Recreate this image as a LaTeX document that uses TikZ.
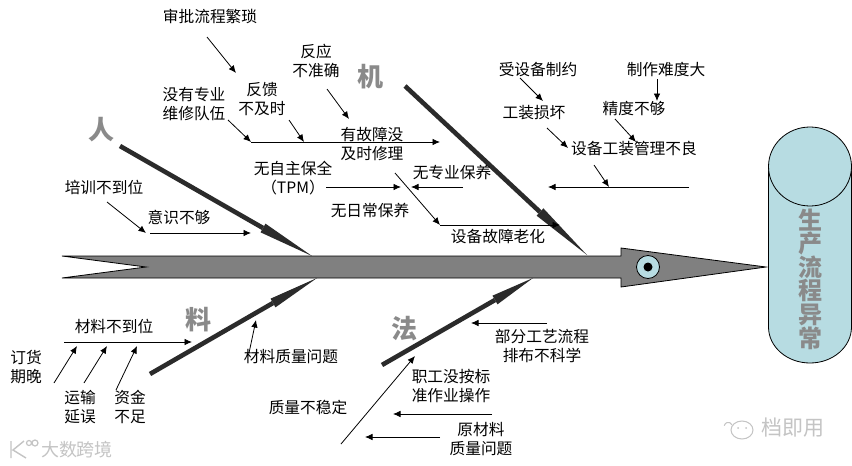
\documentclass[tikz,border=0pt]{standalone}
\usepackage{fontspec}
\setmainfont{Noto Sans CJK SC}
\usepackage{tikz}
\usetikzlibrary{arrows.meta,positioning,calc}
\definecolor{spinegray}{HTML}{808080}
\definecolor{ribdark}{HTML}{2B2B2B}
\definecolor{headblue}{HTML}{B7DCE2}
\definecolor{markgray}{HTML}{8A8A8A}
\definecolor{wmgray}{HTML}{C4C4C4}
\begin{document}
\begin{tikzpicture}[x=1pt,y=-1pt,
 lbl/.style={align=center,inner sep=0pt,font={\fontsize{15.7}{18.5}\selectfont}},
 catmark/.style={inner sep=0pt,text=markgray,font={\bfseries\fontsize{26}{26}\selectfont}},
 wm/.style={inner sep=0pt,text=wmgray,font={\fontsize{#1}{#1}\selectfont}},
 ar/.style={-{Latex[length=7.5pt,width=6.5pt]},line width=0.8pt},
 rib/.style={line width=4.6pt,draw=ribdark},
 ribtip/.style={fill=ribdark}]
\useasboundingbox (0,0) rectangle (852,466);
\fill[white] (0,0) rectangle (852,466);
% ribs
\coordinate (renS) at (120,146); \coordinate (renB) at (263,228); \coordinate (renE) at (312,256);
\coordinate (jiS) at (405,86); \coordinate (jiB) at (540,212); \coordinate (jiE) at (587,255);
\coordinate (liaoS) at (150,374); \coordinate (liaoB) at (273,303); \coordinate (liaoE) at (317,278);
\coordinate (faS) at (382,365); \coordinate (faB) at (495,300); \coordinate (faE) at (533,278);
\draw[rib] (renS) -- (renB);
\fill[ribtip] ($(renB)!5pt!90:(renE)$) -- (renE) -- ($(renB)!5pt!-90:(renE)$) -- cycle;
\draw[rib] (jiS) -- (jiB);
\fill[ribtip] ($(jiB)!5pt!90:(jiE)$) -- (jiE) -- ($(jiB)!5pt!-90:(jiE)$) -- cycle;
\draw[rib] (liaoS) -- (liaoB);
\fill[ribtip] ($(liaoB)!5pt!90:(liaoE)$) -- (liaoE) -- ($(liaoB)!5pt!-90:(liaoE)$) -- cycle;
\draw[rib] (faS) -- (faB);
\fill[ribtip] ($(faB)!5pt!90:(faE)$) -- (faE) -- ($(faB)!5pt!-90:(faE)$) -- cycle;
% spine and head
\draw[fill=spinegray,line width=0.8pt] (62,256) -- (621,256) -- (621,248) -- (766,267) -- (621,287) -- (621,278) -- (62,278) -- (146,267) -- cycle;
\node[circle,draw,fill=headblue,minimum size=23pt,inner sep=0pt,line width=0.8pt] (eye) at (648,267) {};
\node[circle,fill=black,minimum size=9pt,inner sep=0pt] (pupil) at (eye) {};
% effect cylinder
\draw[fill=headblue,line width=0.8pt] (768.5,166) -- (768.5,327) arc[start angle=180,end angle=360,x radius=41.5,y radius=-36] -- (851.5,166) -- cycle;
\draw[fill=headblue,line width=0.8pt] (810,166.5) circle[x radius=41.5,y radius=39.5];
\node[catmark,align=center,font={\bfseries\fontsize{24}{23.6}\selectfont}] (effect) at (810,279) {生\\产\\流\\程\\异\\常};
% category marks
\node[catmark] (ren) at (101,130) {人};
\node[catmark] (ji) at (370,77) {机};
\node[catmark] (liao) at (198,320) {料};
\node[catmark] (fa) at (404,329) {法};
% labels
\node[lbl] (spliu) at (210,16) {审批流程繁琐};
\node[lbl] (fyzq) at (316,61) {反应\\不准确};
\node[lbl] (wxdw) at (194,104) {没有专业\\维修队伍};
\node[lbl] (fkjs) at (262,99) {反馈\\不及时};
\node[lbl] (wxlj) at (372,144) {有故障没\\及时修理};
\node[lbl] (pxdw) at (104,187) {培训不到位};
\node[lbl] (ysbg) at (179,217) {意识不够};
\node[lbl] (tpm) at (293,178) {无自主保全\\（TPM）};
\node[lbl] (wrby) at (370,211) {无日常保养};
\node[lbl] (wzby) at (452,173) {无专业保养};
\node[lbl] (lhua) at (498,237) {设备故障老化};
\node[lbl] (szyu) at (538,70) {受设备制约};
\node[lbl] (zznd) at (666,70) {制作难度大};
\node[lbl] (gzsh) at (534,113) {工装损坏};
\node[lbl] (jdbg) at (634,109) {精度不够};
\node[lbl] (glbl) at (634,149) {设备工装管理不良};
\node[lbl] (clbd) at (114,326) {材料不到位};
\node[lbl] (dhwq) at (26,367) {订货\\期晚};
\node[lbl] (ysyw) at (80,407) {运输\\延误};
\node[lbl] (zjbz) at (130,407) {资金\\不足};
\node[lbl] (clzl) at (291,357) {材料质量问题};
\node[lbl] (zlbw) at (308,407) {质量不稳定};
\node[lbl] (zgcz) at (451,386) {职工没按标\\准作业操作};
\node[lbl] (gylc) at (542,346) {部分工艺流程\\排布不科学};
\node[lbl] (yclw) at (481,439) {原材料\\质量问题};
% connector ends, top half
\coordinate (a1) at (207,37); \coordinate (a2) at (236,73);
\coordinate (b1) at (327,89); \coordinate (b2) at (349,119);
\coordinate (c1) at (228,120); \coordinate (c2) at (251,142);
\coordinate (d1) at (289,120); \coordinate (d2) at (304,142);
\coordinate (e2) at (440,142);
\coordinate (f1) at (326,187); \coordinate (f2) at (401,187);
\coordinate (g1) at (463,187); \coordinate (g2) at (411,187);
\coordinate (h1) at (395,173); \coordinate (h2) at (440,225); \coordinate (h3) at (560,225);
\coordinate (i1) at (107,202); \coordinate (i2) at (146,233);
\coordinate (j1) at (150,233); \coordinate (j2) at (251,233);
\coordinate (k1) at (520,78); \coordinate (k2) at (543,101);
\coordinate (l1) at (657,79); \coordinate (l2) at (657,101);
\coordinate (m1) at (615,119); \coordinate (m2) at (636,142);
\coordinate (n1) at (547,128); \coordinate (n2) at (568,148);
\coordinate (o1) at (594,165); \coordinate (o2) at (609,187);
\coordinate (p1) at (689,187); \coordinate (p2) at (548,187);
% connector ends, bottom half
\coordinate (q1) at (64,342); \coordinate (q2) at (192,342);
\coordinate (r1) at (54,383); \coordinate (r2) at (77,346);
\coordinate (s1) at (84,383); \coordinate (s2) at (107,346);
\coordinate (t1) at (116,390); \coordinate (t2) at (137,346);
\coordinate (u1) at (249,353); \coordinate (u2) at (256,320);
\coordinate (v1) at (341,444); \coordinate (v2) at (415,356);
\coordinate (w1) at (547,323); \coordinate (w2) at (471,323);
\coordinate (x1) at (492,414); \coordinate (x2) at (393,414);
\coordinate (y1) at (440,437); \coordinate (y2) at (365,437);
% connectors
\draw[ar] (a1) -- (a2); \draw[ar] (b1) -- (b2);
\draw[ar] (c1) -- (c2); \draw[ar] (d1) -- (d2);
\draw[ar] (c2) -- (e2);
\draw[ar] (f1) -- (f2); \draw[ar] (g1) -- (g2);
\draw[ar] (h1) -- (h2); \draw[ar] (h2) -- (h3);
\draw[ar] (i1) -- (i2); \draw[ar] (j1) -- (j2);
\draw[ar] (k1) -- (k2); \draw[ar] (l1) -- (l2);
\draw[ar] (m1) -- (m2); \draw[ar] (n1) -- (n2);
\draw[ar] (o1) -- (o2); \draw[ar] (p1) -- (p2);
\draw[ar] (q1) -- (q2); \draw[ar] (r1) -- (r2);
\draw[ar] (s1) -- (s2); \draw[ar] (t1) -- (t2);
\draw[ar] (u1) -- (u2); \draw[ar] (v1) -- (v2);
\draw[ar] (w1) -- (w2); \draw[ar] (x1) -- (x2);
\draw[ar] (y1) -- (y2);
% watermarks
\node[wm=18] (wmleft) at (77,450) {大数跨境};
\node[wm=21] (wmright) at (793,428) {档即用};
\draw[wmgray,line width=1.4pt] (11,441) -- (11,458) (24,441) -- (13,450) -- (26,458);
\draw[wmgray,line width=1.2pt] (35,443) circle[radius=3] (29,443) circle[radius=2.5];
\draw[wmgray,line width=1pt] (742,430) circle[x radius=11,y radius=9];
\draw[wmgray,line width=1pt] (732,425) arc[start angle=20,end angle=170,x radius=4,y radius=-4];
\fill[wmgray] (738,428) circle[radius=1] (746,428) circle[radius=1];
\end{tikzpicture}
\end{document}
